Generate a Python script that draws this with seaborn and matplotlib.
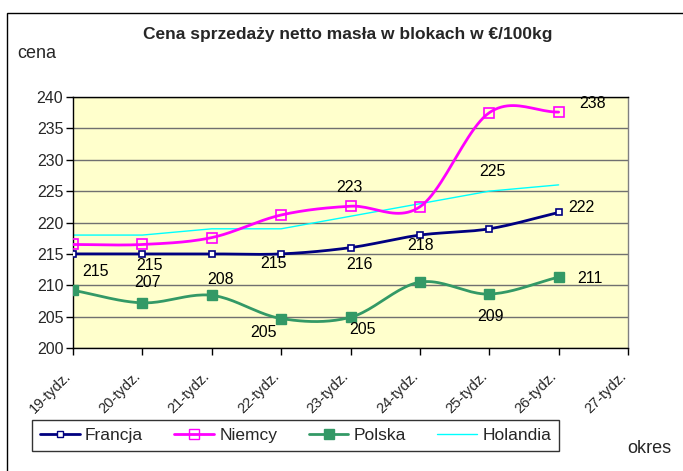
import numpy as np
import pandas as pd
import matplotlib
matplotlib.use('Agg')
from matplotlib import pyplot as plt
from matplotlib.lines import Line2D
from matplotlib.patches import Rectangle
from matplotlib.transforms import ScaledTranslation
import seaborn as sns

# dane
tygodnie = ['19-tydz.', '20-tydz.', '21-tydz.', '22-tydz.', '23-tydz.',
            '24-tydz.', '25-tydz.', '26-tydz.', '27-tydz.']
francja = [215, 215, 215, 215, 216, 218, 219, 221.6]
niemcy = [216.5, 216.5, 217.6, 221.2, 222.6, 222.5, 237.5, 237.6]
polska = [209.2, 207.2, 208.4, 204.7, 204.9, 210.5, 208.6, 211.3]
holandia = [218, 218, 219, 219, 221, 223, 225, 226]

# etykiety danych: (seria, indeks tygodnia)
etykiety = [('Francja', 0), ('Francja', 1), ('Polska', 1), ('Polska', 2),
            ('Francja', 3), ('Polska', 3), ('Niemcy', 4), ('Francja', 4),
            ('Polska', 4), ('Francja', 5), ('Holandia', 6), ('Polska', 6),
            ('Niemcy', 7), ('Francja', 7), ('Polska', 7)]
# przesuniecia etykiet w pikselach
przesuniecia = [(22, -18), (7, -12), (5, 20), (9, 16), (-8, -10), (-18, -14),
                (-1, 19), (9, -17), (12, -12), (1, -10), (3, 20), (1, -22),
                (34, 9), (23, 5), (31, -1)]

serie = {'Francja': francja, 'Niemcy': niemcy, 'Polska': polska, 'Holandia': holandia}
kolory = {'Francja': '#000080', 'Niemcy': '#FF00FF', 'Polska': '#339966', 'Holandia': '#00FFFF'}


def wygladz(x, y, n=24):
    # krzywa Catmull-Rom jak "wygładzona linia" w Excelu
    x = np.asarray(x, float)
    y = np.asarray(y, float)
    px = np.concatenate([[2 * x[0] - x[1]], x, [2 * x[-1] - x[-2]]])
    py = np.concatenate([[2 * y[0] - y[1]], y, [2 * y[-1] - y[-2]]])
    xs, ys = [], []
    t = np.linspace(0, 1, n)
    for i in range(1, len(px) - 2):
        for p, out in ((px, xs), (py, ys)):
            p0, p1, p2, p3 = p[i - 1], p[i], p[i + 1], p[i + 2]
            out.extend(0.5 * ((2 * p1) + (-p0 + p2) * t
                              + (2 * p0 - 5 * p1 + 4 * p2 - p3) * t ** 2
                              + (-p0 + 3 * p1 - 3 * p2 + p3) * t ** 3))
    return np.array(xs), np.array(ys)


sns.set_style('white')
plt.rcParams['font.family'] = ['Liberation Sans', 'DejaVu Sans']

fig = plt.figure(figsize=(6.83, 4.71), dpi=100)
ax = fig.add_axes([0.1069, 0.2611, 0.8126, 0.5329])
ax.set_facecolor('#FFFFCC')

x = np.arange(len(francja))

# linie wygladzone
for nazwa in ['Francja', 'Niemcy', 'Polska']:
    sx, sy = wygladz(x, serie[nazwa])
    sns.lineplot(x=sx, y=sy, ax=ax, color=kolory[nazwa], lw=2, sort=False, zorder=3)
sns.lineplot(x=x, y=holandia, ax=ax, color=kolory['Holandia'], lw=1, zorder=2)

# znaczniki
ax.plot(x, francja, ls='none', marker='s', ms=4, mfc='white', mec='#000080', mew=1.2, zorder=4)
ax.plot(x, niemcy, ls='none', marker='s', ms=6.5, mfc='none', mec='#FF00FF', mew=1.2, zorder=4)
ax.plot(x, polska, ls='none', marker='s', ms=7, mfc='#339966', mec='#339966', zorder=4)

for (nazwa, i), (dx, dy) in zip(etykiety, przesuniecia):
    v = serie[nazwa][i]
    ax.annotate(f'{v:.0f}', (i, v), xytext=(dx, dy), textcoords='offset pixels',
                ha='center', va='center', fontsize=11.5, color='black', zorder=5)

ax.set_xlim(0, len(tygodnie) - 1)
ax.set_ylim(200, 240)
ax.set_yticks(range(200, 241, 5))
ax.set_xticks(range(len(tygodnie)))
ax.set_xticklabels(tygodnie, rotation=45, ha='right', rotation_mode='anchor', fontsize=10.5)
ax.tick_params(axis='y', labelsize=11.5, length=5, direction='out', width=1, color='black', left=True, pad=2)
ax.tick_params(axis='x', length=5, direction='out', width=1, color='black', bottom=True, pad=10)
przes = ScaledTranslation(-9 / 100, 0, fig.dpi_scale_trans)
for lab in ax.get_xticklabels():
    lab.set_transform(lab.get_transform() + przes)
ax.grid(axis='y', color='#707070', lw=1)
ax.grid(axis='x', visible=False)
for s in ax.spines.values():
    s.set_color('black')
    s.set_linewidth(1)
ax.spines['right'].set_color('#808080')

fig.text(348 / 683, 1 - 34 / 471, 'Cena sprzedaży netto masła w blokach w €/100kg',
         ha='center', va='center', fontsize=12.5, fontweight='bold')
fig.text(17 / 683, 1 - 58 / 471, 'cena', ha='left', va='baseline', fontsize=13)
fig.text(627 / 683, 1 - 453 / 471, 'okres', ha='left', va='baseline', fontsize=13)

uchwyty = [
    Line2D([], [], color='#000080', lw=2, marker='s', ms=4, mfc='white', mec='#000080'),
    Line2D([], [], color='#FF00FF', lw=2, marker='s', ms=6.5, mfc='none', mec='#FF00FF'),
    Line2D([], [], color='#339966', lw=2, marker='s', ms=7, mfc='#339966'),
    Line2D([], [], color='#00FFFF', lw=1),
]
leg = fig.legend(uchwyty, list(serie.keys()), loc='center', ncol=4,
                 bbox_to_anchor=(295.5 / 683, 1 - 435.5 / 471), frameon=True, fancybox=False,
                 edgecolor='black', fontsize=12.5, handlelength=2.3, columnspacing=1.8,
                 borderpad=0.45, handletextpad=0.3)
leg.get_frame().set_linewidth(1)

fig.add_artist(Rectangle((7 / 683, -0.05), 1.0, 1 - 13 / 471 + 0.05, transform=fig.transFigure,
                         fill=False, edgecolor='black', lw=1, clip_on=False))

fig.savefig('out.png', dpi=100)
